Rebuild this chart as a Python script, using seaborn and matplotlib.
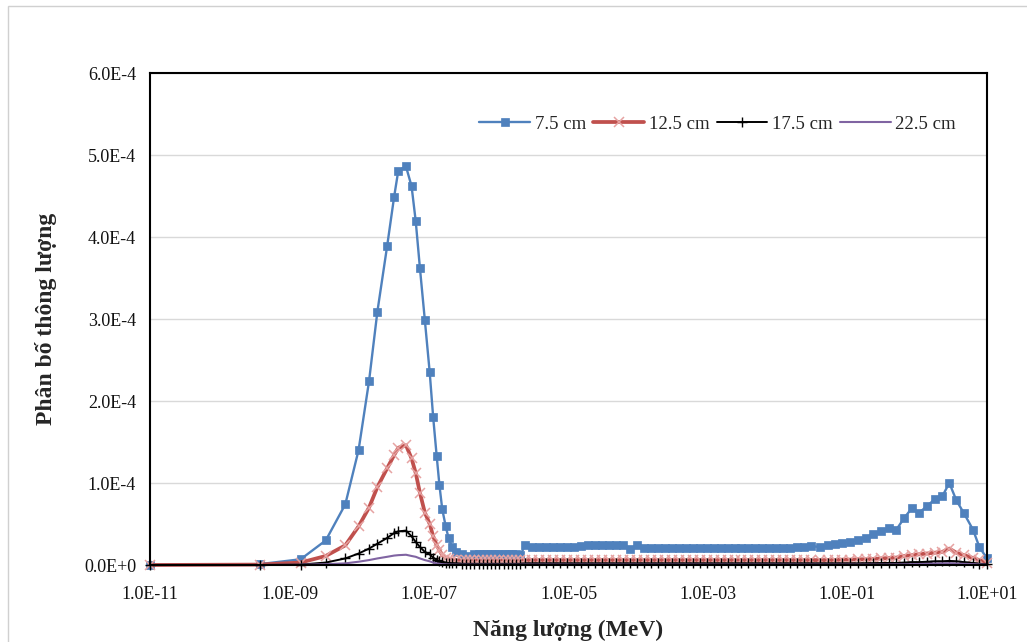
import numpy as np
import pandas as pd
import matplotlib
matplotlib.use("Agg")
import matplotlib.pyplot as plt
import seaborn as sns
from matplotlib.patches import Rectangle

# ---------------- data (flux values in units of 1e-4) ----------------
log_energy = [
    -11.0, -9.43, -8.84, -8.48, -8.20, -8.01, -7.86, -7.74, -7.60, -7.50,
    -7.44, -7.33, -7.25, -7.19, -7.13, -7.06, -6.99, -6.94, -6.89, -6.85,
    -6.81, -6.76, -6.72, -6.67, -6.61,
    -6.53, -6.47, -6.41, -6.35, -6.29, -6.23, -6.17, -6.11, -6.05, -5.99,
    -5.93, -5.87, -5.81, -5.75, -5.69,
    -5.62, -5.52, -5.42, -5.32, -5.22, -5.12, -5.02, -4.92, -4.82, -4.72,
    -4.62, -4.52, -4.42, -4.32, -4.22, -4.12, -4.02, -3.92, -3.82, -3.72,
    -3.62, -3.52, -3.42, -3.32, -3.22, -3.12, -3.02, -2.92, -2.82, -2.72,
    -2.62, -2.52, -2.42, -2.32, -2.22, -2.12, -2.02, -1.92, -1.82, -1.72,
    -1.62, -1.52,
    -1.40, -1.28, -1.18, -1.08, -0.96, -0.85, -0.73, -0.63, -0.52, -0.41,
    -0.30, -0.19, -0.08, 0.02, 0.14, 0.25, 0.36, 0.46, 0.56, 0.67,
    0.80, 0.89, 1.0,
]

flux_7_5 = [
    0.0, 0.01, 0.07, 0.30, 0.74, 1.40, 2.24, 3.09, 3.89, 4.49,
    4.81, 4.86, 4.62, 4.19, 3.62, 2.99, 2.35, 1.80, 1.33, 0.97,
    0.68, 0.47, 0.33, 0.22, 0.16,
    0.13, 0.11, 0.10, 0.135, 0.135, 0.13, 0.13, 0.13, 0.13, 0.135,
    0.14, 0.14, 0.135, 0.14, 0.12,
    0.245, 0.225, 0.225, 0.225, 0.225, 0.225, 0.225, 0.225, 0.23, 0.24,
    0.245, 0.245, 0.245, 0.245, 0.24, 0.195, 0.24, 0.21, 0.205, 0.205,
    0.205, 0.205, 0.205, 0.205, 0.205, 0.205, 0.205, 0.205, 0.205, 0.205,
    0.205, 0.205, 0.205, 0.205, 0.205, 0.205, 0.205, 0.205, 0.205, 0.225,
    0.225, 0.23,
    0.22, 0.24, 0.255, 0.27, 0.285, 0.305, 0.335, 0.38, 0.41, 0.45,
    0.43, 0.57, 0.69, 0.63, 0.72, 0.80, 0.84, 1.00, 0.79, 0.63,
    0.43, 0.22, 0.08,
]

flux_12_5 = [
    0.0, 0.005, 0.03, 0.11, 0.24, 0.47, 0.70, 0.95, 1.18, 1.34,
    1.43, 1.46, 1.30, 1.12, 0.88, 0.64, 0.50, 0.35, 0.24, 0.18,
    0.12, 0.09, 0.075, 0.065, 0.06,
    0.055, 0.055, 0.055, 0.055, 0.055, 0.055, 0.055, 0.055, 0.055, 0.055,
    0.055, 0.055, 0.055, 0.055, 0.055,
    0.06, 0.06, 0.06, 0.06, 0.06, 0.06, 0.06, 0.06, 0.06, 0.06,
    0.06, 0.06, 0.06, 0.06, 0.06, 0.06, 0.06, 0.06, 0.06, 0.06,
    0.06, 0.06, 0.06, 0.06, 0.06, 0.06, 0.06, 0.06, 0.06, 0.06,
    0.06, 0.06, 0.06, 0.06, 0.06, 0.06, 0.06, 0.06, 0.06, 0.06,
    0.06, 0.06,
    0.06, 0.06, 0.06, 0.065, 0.065, 0.07, 0.07, 0.075, 0.08, 0.085,
    0.09, 0.11, 0.12, 0.13, 0.14, 0.15, 0.16, 0.20, 0.15, 0.12,
    0.085, 0.06, 0.03,
]

flux_17_5 = [
    0.0, 0.0, 0.005, 0.03, 0.08, 0.14, 0.20, 0.26, 0.33, 0.39,
    0.41, 0.42, 0.35, 0.28, 0.22, 0.16, 0.13, 0.09, 0.06, 0.045,
    0.035, 0.03, 0.025, 0.02, 0.02,
    0.015, 0.015, 0.015, 0.015, 0.015, 0.015, 0.015, 0.015, 0.015, 0.015,
    0.015, 0.015, 0.015, 0.015, 0.015,
    0.02, 0.02, 0.02, 0.02, 0.02, 0.02, 0.02, 0.02, 0.02, 0.02,
    0.02, 0.02, 0.02, 0.02, 0.02, 0.02, 0.02, 0.02, 0.02, 0.02,
    0.02, 0.02, 0.02, 0.02, 0.02, 0.02, 0.02, 0.02, 0.02, 0.02,
    0.02, 0.02, 0.02, 0.02, 0.02, 0.02, 0.02, 0.02, 0.02, 0.02,
    0.02, 0.02,
    0.02, 0.02, 0.02, 0.02, 0.02, 0.02, 0.022, 0.022, 0.024, 0.025,
    0.025, 0.03, 0.035, 0.035, 0.04, 0.045, 0.045, 0.05, 0.045, 0.035,
    0.025, 0.015, 0.01,
]

flux_22_5 = [
    0.0, 0.0, 0.003, 0.01, 0.02, 0.04, 0.06, 0.08, 0.10, 0.115,
    0.12, 0.125, 0.11, 0.10, 0.08, 0.06, 0.045, 0.03, 0.02, 0.015,
    0.01, 0.008, 0.006, 0.005, 0.005,
    0.004, 0.004, 0.004, 0.004, 0.004, 0.004, 0.004, 0.004, 0.004, 0.004,
    0.004, 0.004, 0.004, 0.004, 0.004,
    0.005, 0.005, 0.005, 0.005, 0.005, 0.005, 0.005, 0.005, 0.005, 0.005,
    0.005, 0.005, 0.005, 0.005, 0.005, 0.005, 0.005, 0.005, 0.005, 0.005,
    0.005, 0.005, 0.005, 0.005, 0.005, 0.005, 0.005, 0.005, 0.005, 0.005,
    0.005, 0.005, 0.005, 0.005, 0.005, 0.005, 0.005, 0.005, 0.005, 0.005,
    0.005, 0.005,
    0.005, 0.005, 0.005, 0.005, 0.005, 0.005, 0.005, 0.005, 0.005, 0.006,
    0.007, 0.008, 0.01, 0.012, 0.015, 0.018, 0.02, 0.022, 0.018, 0.014,
    0.01, 0.007, 0.004,
]

series_labels = ["7.5 cm", "12.5 cm", "17.5 cm", "22.5 cm"]
series_values = [flux_7_5, flux_12_5, flux_17_5, flux_22_5]

x_tick_values = [1e-11, 1e-9, 1e-7, 1e-5, 1e-3, 1e-1, 1e1]
x_tick_labels = ["1.0E-11", "1.0E-09", "1.0E-07", "1.0E-05", "1.0E-03", "1.0E-01", "1.0E+01"]
y_tick_values = [0.0, 1e-4, 2e-4, 3e-4, 4e-4, 5e-4, 6e-4]
y_tick_labels = ["0.0E+0", "1.0E-4", "2.0E-4", "3.0E-4", "4.0E-4", "5.0E-4", "6.0E-4"]

x_label = "Năng lượng (MeV)"
y_label = "Phân bố thông lượng"

# ---------------- table ----------------
energy = 10.0 ** np.array(log_energy)
frames = []
for lab, vals in zip(series_labels, series_values):
    frames.append(pd.DataFrame({"E": energy, "flux": np.array(vals) * 1e-4, "series": lab}))
df = pd.concat(frames, ignore_index=True)

# ---------------- style ----------------
sns.set_theme(style="white")
plt.rcParams["font.family"] = ["Liberation Serif", "DejaVu Serif"]

fig = plt.figure(figsize=(10.27, 6.42), dpi=100)
ax = fig.add_axes([150 / 1027, 1 - 565 / 642, 837 / 1027, 492 / 642])

styles = {
    "7.5 cm": dict(color="#4F81BD", lw=1.7, marker="s", ms=6.3, mec="#4F81BD", mfc="#4F81BD", mew=0.5),
    "12.5 cm": dict(color="#C0504D", lw=2.7, marker="x", ms=7.0, mec="#E6A3A2", mfc="none", mew=1.1),
    "17.5 cm": dict(color="black", lw=1.4, marker="+", ms=7.5, mec="black", mew=1.0),
    "22.5 cm": dict(color="#8064A2", lw=1.5, marker=None),
}

for lab in series_labels:
    st = styles[lab]
    sub = df[df["series"] == lab]
    kw = dict(linewidth=st["lw"], color=st["color"], label=lab, clip_on=False)
    if st["marker"] is not None:
        kw.update(marker=st["marker"], markersize=st["ms"], markeredgecolor=st["mec"],
                  markeredgewidth=st["mew"])
        if "mfc" in st:
            kw.update(markerfacecolor=st["mfc"])
    sns.lineplot(data=sub, x="E", y="flux", ax=ax, estimator=None, sort=True, **kw)

ax.set_xscale("log")
ax.set_xlim(1e-11, 1e1)
ax.set_ylim(0, 6e-4)
ax.set_xticks(x_tick_values)
ax.set_xticklabels(x_tick_labels)
ax.xaxis.set_minor_locator(matplotlib.ticker.NullLocator())
ax.set_yticks(y_tick_values)
ax.set_yticklabels(y_tick_labels)
ax.tick_params(axis="both", length=0, labelsize=13, colors="#111111")
ax.tick_params(axis="x", pad=15)
ax.tick_params(axis="y", pad=10)

ax.grid(axis="y", color="#d9d9d9", linewidth=1.0)
ax.grid(axis="x", visible=False)
ax.set_axisbelow(True)
for sp in ax.spines.values():
    sp.set_visible(True)
    sp.set_color("black")
    sp.set_linewidth(1.5)

ax.set_xlabel(x_label, fontsize=17, fontweight="bold")
ax.set_ylabel(y_label, fontsize=17, fontweight="bold")
ax.xaxis.set_label_coords(0.5, (565 - 630) / 492)
ax.xaxis.label.set_va("center")
ax.yaxis.set_label_coords((46 - 150) / 837, 0.5)
ax.yaxis.label.set_va("center")

handles, labels = ax.get_legend_handles_labels()
leg = ax.legend(handles, labels, loc="center right", bbox_to_anchor=(0.972, (565 - 124) / 492),
                ncol=4, frameon=False, fontsize=13.5, handlelength=2.7, handletextpad=0.25,
                columnspacing=0.4, borderaxespad=0)

# outer light frame of the chart area
fig.patches.append(Rectangle((8 / 1027, -0.05), 1.1, 1 - 6 / 642 + 0.05, transform=fig.transFigure,
                             fill=False, edgecolor="#d0d0d0", linewidth=1.0))

fig.savefig("out.png", dpi=100)
